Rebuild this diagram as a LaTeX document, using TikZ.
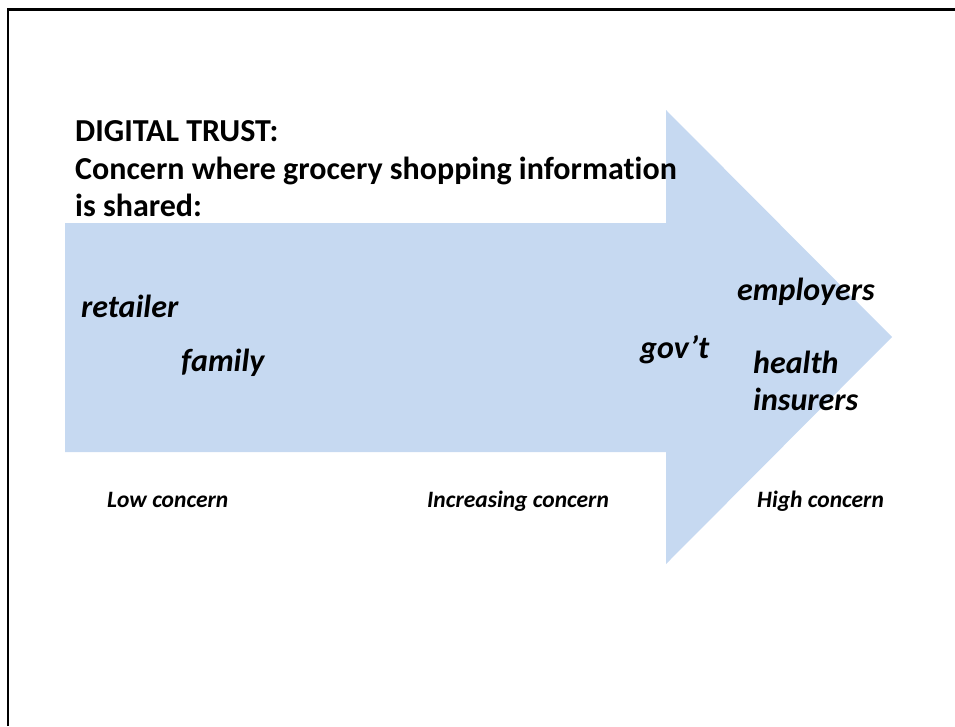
\documentclass[tikz,border=0pt]{standalone}
\usepackage{fontspec}
\setmainfont{Carlito}[Ligatures=NoCommon]
\definecolor{arrowblue}{HTML}{C6D9F1}

\begin{document}
\begin{tikzpicture}[x=1pt,y=-1pt,
   head/.style={anchor=base west, inner sep=0pt, font=\fontsize{32}{38}\selectfont\bfseries},
   party/.style={anchor=base west, inner sep=0pt, font=\fontsize{32}{38}\selectfont\bfseries\itshape},
   scale label/.style={anchor=base west, inner sep=0pt, font=\fontsize{23.5}{28}\selectfont\bfseries\itshape}]
\useasboundingbox (0,0) rectangle (955,726);
\draw[line width=2.5pt] (8,726) -- (8,9.5) -- (955,9.5);
% the big arrow
\fill[arrowblue] (65,223) -- (666,223) -- (666,110) -- (892,337) -- (666,564) -- (666,452) -- (65,452) -- cycle;
% heading
\node[head] (title1) at (75,141) {DIGITAL TRUST:};
\node[head] (title2) at (75,179) {Concern where grocery shopping information};
\node[head] (title3) at (75,216) {is shared:};
% who it is shared with
\node[party] (retailer) at (81,317) {retailer};
\node[party] (family) at (181,371) {family};
\node[party] (govt) at (640,358) {gov’t};
\node[party] (employers) at (737,300) {employers};
\node[party] (health) at (753,373) {health};
\node[party] (insurers) at (753,410) {insurers};
% scale along the arrow
\node[scale label] (low) at (107,507) {Low concern};
\node[scale label] (mid) at (427,507) {Increasing concern};
\node[scale label] (high) at (757,507) {High concern};
\end{tikzpicture}
\end{document}
